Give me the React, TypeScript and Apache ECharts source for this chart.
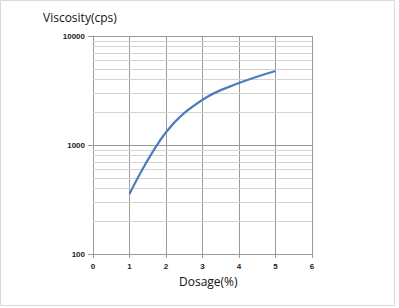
import React, { useEffect, useRef } from "react";
import * as echarts from "echarts";

const dosage = [1, 2, 3, 4, 5];
const viscosity = [355, 1310, 2600, 3700, 4780];
const minorLevels = [200, 300, 400, 500, 600, 700, 800, 900, 2000, 3000, 4000, 5000, 6000, 7000, 8000, 9000];
const yTitle = "Viscosity(cps)";
const xTitle = "Dosage(%)";

export default function App() {
  const ref = useRef<HTMLDivElement>(null);
  useEffect(() => {
    if (!ref.current) return;
    const chart = echarts.init(ref.current, null, { renderer: "svg" });
    const labelStyle = { color: "#222", fontSize: 8, fontWeight: "bold" as const, fontFamily: "Liberation Sans, Arial, sans-serif" };
    chart.setOption({
      animation: false,
      grid: { left: 93, top: 36, right: 87, bottom: 54 },
      graphic: [
        { type: "rect", shape: { x: 0.5, y: 0.5, width: 394, height: 305 }, style: { fill: "none", stroke: "#d9d9d9", lineWidth: 1 }, silent: true },
        { type: "text", left: 43, top: 11, style: { text: yTitle, fontSize: 12, fontFamily: "Open Sans, sans-serif", fill: "#111" } },
        { type: "text", left: 179, top: 275, style: { text: xTitle, fontSize: 12, fontFamily: "Open Sans, sans-serif", fill: "#111" } },
      ],
      xAxis: {
        type: "value",
        min: 0,
        max: 6,
        interval: 1,
        axisLine: { show: true, lineStyle: { color: "#999" } },
        axisTick: { show: true, length: 4, lineStyle: { color: "#999" } },
        axisLabel: { ...labelStyle, margin: 8 },
        splitLine: { show: true, lineStyle: { color: "#9a9a9a", width: 1 } },
      },
      yAxis: {
        type: "log",
        logBase: 10,
        min: 100,
        max: 10000,
        axisLine: { show: true, lineStyle: { color: "#999" } },
        axisTick: { show: true, length: 5, lineStyle: { color: "#999" } },
        axisLabel: { ...labelStyle, margin: 8, formatter: (v: number) => String(Math.round(v)) },
        splitLine: { show: true, lineStyle: { color: "#999", width: 1 } },
      },
      series: [
        {
          type: "line",
          data: dosage.map((d, i) => [d, viscosity[i]]),
          smooth: 0.4,
          showSymbol: false,
          lineStyle: { color: "#4a7ebb", width: 2.2 },
          z: 5,
          markLine: {
            silent: true,
            symbol: ["none", "none"],
            label: { show: false },
            lineStyle: { color: "#d4d4d4", width: 1, type: "solid" },
            data: minorLevels.map((v) => ({ yAxis: v })),
            z: 1,
          },
        },
      ],
    });
    return () => chart.dispose();
  }, []);
  return <div ref={ref} style={{ position: "fixed", left: 0, top: 0, width: 399, height: 308, background: "#fff" }} />;
}
